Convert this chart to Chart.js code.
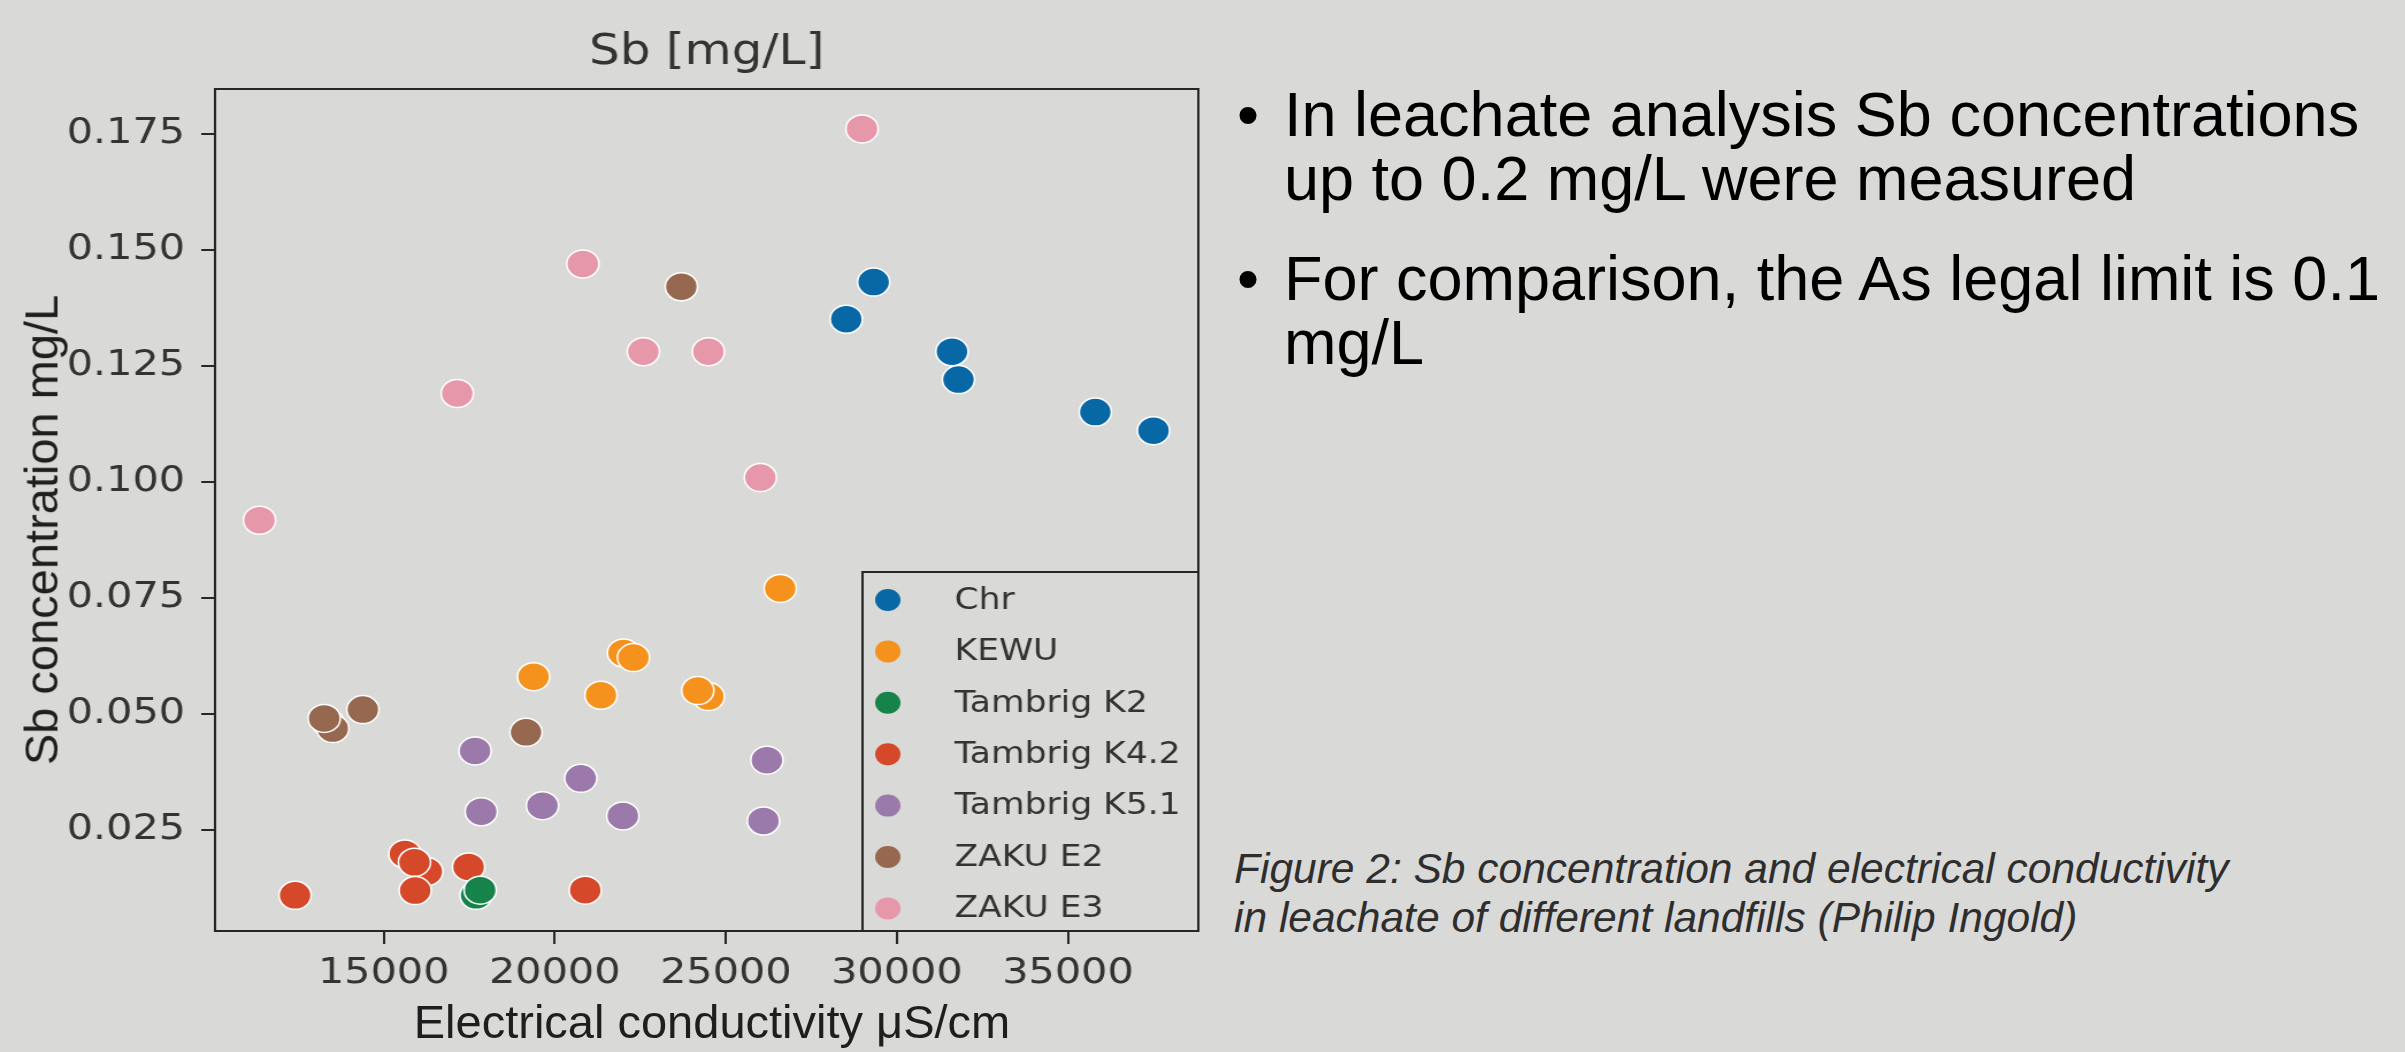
<!DOCTYPE html>
<html>
<head>
<meta charset="utf-8">
<script src="https://cdn.jsdelivr.net/npm/chart.js@4.4.1/dist/chart.umd.min.js"></script>
<style>
    body { margin: 0; width: 2405px; height: 1052px; overflow: hidden; background: #d9d9d7; position: relative; }
    #chartWrap { position: absolute; left: 0; top: 0; width: 1060px; height: 1052px; transform: scaleX(1.15); transform-origin: 0 0; }
    .slide { position: absolute; font-family: "Liberation Sans", Arial, sans-serif; white-space: nowrap; }
    .axisLabel { font-size: 47px; line-height: 47px; color: #1e1e1e; }
    .bullets { font-size: 63px; line-height: 64px; color: #000; }
    .caption { font-size: 42.5px; line-height: 49px; color: #2e2e2e; font-style: italic; }
</style>
</head>
<body>
<div id="chartWrap"><canvas id="sbChart" width="1060" height="1052"></canvas></div>

<div class="slide axisLabel" style="left:712px; top:998px; transform: translateX(-50%);">Electrical conductivity μS/cm</div>
<div class="slide axisLabel" style="left:41px; top:530px; transform: translate(-50%, -50%) rotate(-90deg);">Sb concentration mg/L</div>

<div class="slide bullets" style="left:1237px; top:82px;">•</div>
<div class="slide bullets" style="left:1284px; top:82px;">In leachate analysis Sb concentrations<br>up to 0.2 mg/L were measured</div>
<div class="slide bullets" style="left:1237px; top:246px;">•</div>
<div class="slide bullets" style="left:1284px; top:246px;">For comparison, the As legal limit is 0.1<br>mg/L</div>

<div class="slide caption" style="left:1234px; top:844px;">Figure 2: Sb concentration and electrical conductivity<br>in leachate of different landfills (Philip Ingold)</div>

<script>
// Data (x = EC in µS/cm, y = Sb in mg/L)
const chartTitle = "Sb [mg/L]";
const seriesNames = ["Chr", "KEWU", "Tambrig K2", "Tambrig K4.2", "Tambrig K5.1", "ZAKU E2", "ZAKU E3"];
const seriesColors = ["#0868a6", "#f5921e", "#16834a", "#d6482a", "#9b79ab", "#976850", "#e797aa"];

const chrX = [28520, 29320, 31800, 31610, 35800, 37500];
const chrY = [0.135, 0.143, 0.122, 0.128, 0.115, 0.111];

const kewuX = [19380, 22010, 22300, 21350, 24490, 24180, 26590];
const kewuY = [0.058, 0.0631, 0.0621, 0.054, 0.0537, 0.055, 0.077];

const k2X = [17700, 17820];
const k2Y = [0.0109, 0.0120];

const k42X = [12410, 15620, 16260, 15900, 15920, 17480, 20890];
const k42Y = [0.0109, 0.0198, 0.0160, 0.0180, 0.0119, 0.0170, 0.0120];

const k51X = [17670, 17850, 19640, 20760, 21990, 26200, 26100];
const k51Y = [0.0420, 0.0289, 0.0302, 0.0361, 0.0280, 0.0400, 0.0269];

const e2X = [13370, 13510, 13260, 14390, 19160, 23700];
const e2Y = [0.0481, 0.0468, 0.0490, 0.0509, 0.0460, 0.1420];

const e3X = [11370, 17150, 20820, 22590, 24490, 26010, 28980];
const e3Y = [0.0917, 0.119, 0.1469, 0.128, 0.128, 0.1009, 0.176];

const xTicks = [15000, 20000, 25000, 30000, 35000];
const yTicks = [0.025, 0.050, 0.075, 0.100, 0.125, 0.150, 0.175];
const xMin = 10070, xMax = 38810;
const yMin = 0.0032, yMax = 0.1846;

const seriesX = [chrX, kewuX, k2X, k42X, k51X, e2X, e3X];
const seriesY = [chrY, kewuY, k2Y, k42Y, k51Y, e2Y, e3Y];

const datasets = seriesNames.map((name, i) => ({
    label: name,
    data: seriesX[i].map((x, j) => ({ x: x, y: seriesY[i][j] })),
    backgroundColor: seriesColors[i],
    borderColor: "#ffffff",
    borderWidth: 1.5,
    pointRadius: 14,
    pointHoverRadius: 14
}));

const textColor = "#333333";
const lineColor = "#262626";
const bgColor = "#d9d9d7";

// frame, title and legend box drawn on top of the plot
const framePlugin = {
    id: "frame",
    afterDraw(chart) {
        const { ctx, chartArea: a } = chart;
        ctx.save();

        // legend box in the lower right corner
        const boxLeft = 750, boxTop = 572;
        ctx.fillStyle = bgColor;
        ctx.fillRect(boxLeft, boxTop, a.right - boxLeft, a.bottom - boxTop);
        ctx.strokeStyle = lineColor;
        ctx.lineWidth = 2;
        ctx.strokeRect(boxLeft, boxTop, a.right - boxLeft, a.bottom - boxTop);

        ctx.font = '30px "DejaVu Sans"';
        ctx.textAlign = "left";
        ctx.textBaseline = "middle";
        chart.data.datasets.forEach((ds, i) => {
            const y = 600 + i * 51.4;
            ctx.beginPath();
            ctx.arc(772, y, 11, 0, Math.PI * 2);
            ctx.fillStyle = ds.backgroundColor;
            ctx.fill();
            ctx.fillStyle = textColor;
            ctx.fillText(ds.label, 830, y + 1);
        });

        // axes frame
        ctx.strokeStyle = lineColor;
        ctx.lineWidth = 2;
        ctx.strokeRect(a.left, a.top, a.right - a.left, a.bottom - a.top);

        // title
        ctx.fillStyle = textColor;
        ctx.font = '42px "DejaVu Sans"';
        ctx.textAlign = "center";
        ctx.textBaseline = "middle";
        ctx.fillText(chartTitle, (a.left + a.right) / 2, 53);
        ctx.restore();
    }
};

const ctx = document.getElementById("sbChart").getContext("2d");
new Chart(ctx, {
    type: "scatter",
    data: { datasets },
    plugins: [framePlugin],
    options: {
        responsive: false,
        animation: false,
        devicePixelRatio: 1,
        layout: { padding: { top: 89, right: 18, left: 0, bottom: 0 } },
        plugins: {
            legend: { display: false },
            title: { display: false },
            tooltip: { enabled: false }
        },
        scales: {
            x: {
                type: "linear",
                min: xMin,
                max: xMax,
                afterBuildTicks: s => { s.ticks = xTicks.map(v => ({ value: v })); },
                afterFit: s => { s.height = 121; },
                border: { display: false },
                grid: { drawOnChartArea: false, drawTicks: true, tickLength: 13, color: lineColor, lineWidth: 2 },
                ticks: {
                    color: textColor,
                    font: { family: "DejaVu Sans", size: 36 },
                    padding: 8,
                    maxRotation: 0,
                    callback: v => String(v)
                }
            },
            y: {
                type: "linear",
                min: yMin,
                max: yMax,
                afterBuildTicks: s => { s.ticks = yTicks.map(v => ({ value: v })); },
                afterFit: s => { s.width = 187; },
                border: { display: false },
                grid: { drawOnChartArea: false, drawTicks: true, tickLength: 12, color: lineColor, lineWidth: 2 },
                ticks: {
                    color: textColor,
                    font: { family: "DejaVu Sans", size: 36 },
                    padding: 14,
                    callback: v => v.toFixed(3)
                }
            }
        }
    }
});
</script>
</body>
</html>
